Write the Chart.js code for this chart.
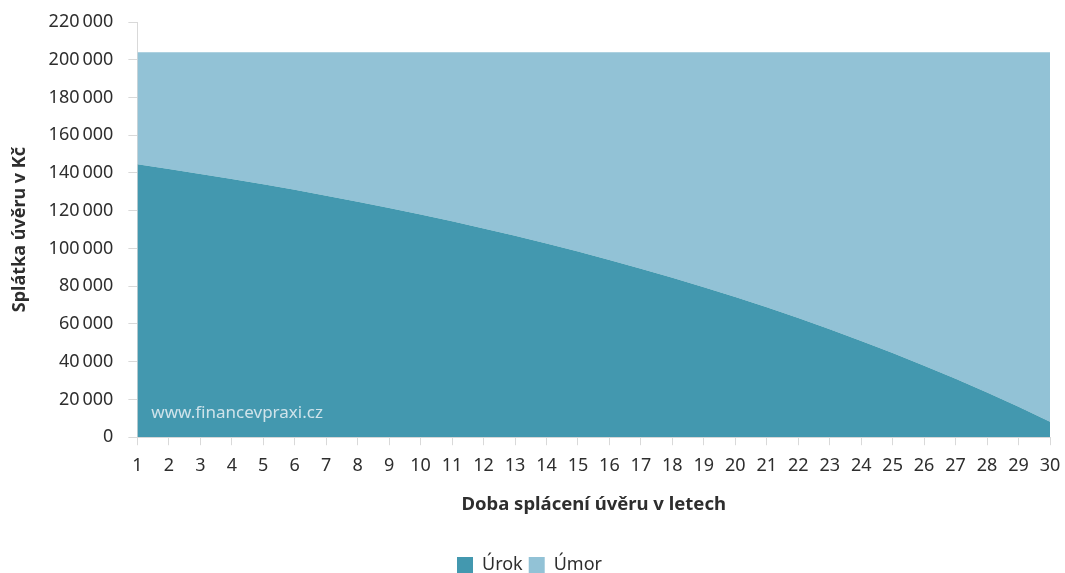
<!DOCTYPE html>
<html>
<head>
<meta charset="utf-8">
<script src="https://cdn.jsdelivr.net/npm/chart.js@4/dist/chart.umd.min.js"></script>
<style>
  html, body { margin: 0; padding: 0; background: #fff; overflow: hidden; }
  #wrap { width: 1065px; height: 573px; position: relative; }
</style>
</head>
<body>
<div id="wrap"><canvas id="loanChart"></canvas></div>
<script>
const years = ['1','2','3','4','5','6','7','8','9','10','11','12','13','14','15',
               '16','17','18','19','20','21','22','23','24','25','26','27','28','29','30'];

// Úrok (interest) per year
const urok = [144600, 142100, 139500, 136800, 134000, 131100, 128000, 124800, 121500, 118000,
              114400, 110600, 106700, 102600, 98400, 93900, 89300, 84500, 79500, 74300,
              68800, 63100, 57200, 51000, 44600, 37900, 31000, 23700, 16100, 8200];

// Úmor (principal) per year, the light area on top (total ~204 000)
const umor = [59400, 61900, 64500, 67200, 70000, 72900, 76000, 79200, 82500, 86000,
              89600, 93400, 97300, 101400, 105600, 110100, 114700, 119500, 124500, 129700,
              135200, 140900, 146800, 153000, 159400, 166100, 173000, 180300, 187900, 195800];

const yTicks = [0, 20000, 40000, 60000, 80000, 100000, 120000, 140000, 160000, 180000, 200000, 220000];

const textColor = '#2e2e2e';
const axisColor = '#d9d9d9';
const fontFamily = "'Noto Sans', 'Open Sans', sans-serif";

const watermark = {
    id: 'watermark',
    afterDatasetsDraw(chart) {
        const { ctx, chartArea } = chart;
        ctx.save();
        ctx.font = '17px ' + fontFamily;
        ctx.fillStyle = 'rgba(232,240,244,0.85)';
        ctx.textBaseline = 'middle';
        ctx.fillText('www.financevpraxi.cz', chartArea.left + 14, chartArea.bottom - 24);
        ctx.restore();
    }
};

new Chart(document.getElementById('loanChart'), {
    type: 'line',
    data: {
        labels: years,
        datasets: [
            {
                label: 'Úrok',
                data: urok,
                backgroundColor: '#4398af',
                borderColor: '#4398af',
                borderWidth: 0,
                pointRadius: 0,
                fill: 'origin',
                tension: 0,
            },
            {
                label: 'Úmor',
                data: umor,
                backgroundColor: '#92c2d6',
                borderColor: '#92c2d6',
                borderWidth: 0,
                pointRadius: 0,
                fill: '-1',
                tension: 0,
            }
        ]
    },
    options: {
        responsive: true,
        maintainAspectRatio: false,
        animation: false,
        layout: { padding: { top: 22, right: 15, left: 9, bottom: -11 } },
        plugins: {
            legend: {
                position: 'bottom',
                labels: {
                    color: textColor,
                    boxWidth: 16,
                    boxHeight: 16,
                    padding: 6,
                    font: { family: fontFamily, size: 18 }
                }
            },
            tooltip: { enabled: false }
        },
        scales: {
            x: {
                offset: false,
                afterFit(axis) {
                    axis.paddingRight = 0;
                },
                grid: {
                    display: true,
                    drawOnChartArea: false,
                    drawTicks: true,
                    tickLength: 8,
                    color: axisColor
                },
                border: { color: axisColor },
                ticks: {
                    color: textColor,
                    maxRotation: 0,
                    autoSkip: false,
                    padding: 10,
                    font: { family: fontFamily, size: 18 }
                },
                title: {
                    display: true,
                    text: 'Doba splácení úvěru v letech',
                    color: textColor,
                    padding: { top: 7, bottom: 34 },
                    font: { family: fontFamily, size: 18.5, weight: 'bold' }
                }
            },
            y: {
                stacked: true,
                min: 0,
                max: 220000,
                afterBuildTicks(axis) {
                    axis.ticks = yTicks.map(v => ({ value: v }));
                },
                afterFit(axis) {
                    axis.paddingTop = 0;
                },
                grid: {
                    display: true,
                    drawOnChartArea: false,
                    drawTicks: true,
                    tickLength: 9,
                    color: axisColor
                },
                border: { color: axisColor },
                ticks: {
                    color: textColor,
                    padding: 15,
                    font: { family: fontFamily, size: 18 },
                    callback: v => String(v).replace(/\B(?=(\d{3})+(?!\d))/g, '\u2009')
                },
                title: {
                    display: true,
                    text: 'Splátka úvěru v Kč',
                    color: textColor,
                    padding: { top: 0, bottom: 3 },
                    font: { family: fontFamily, size: 18, weight: 'bold' }
                }
            }
        }
    },
    plugins: [watermark]
});
</script>
</body>
</html>
